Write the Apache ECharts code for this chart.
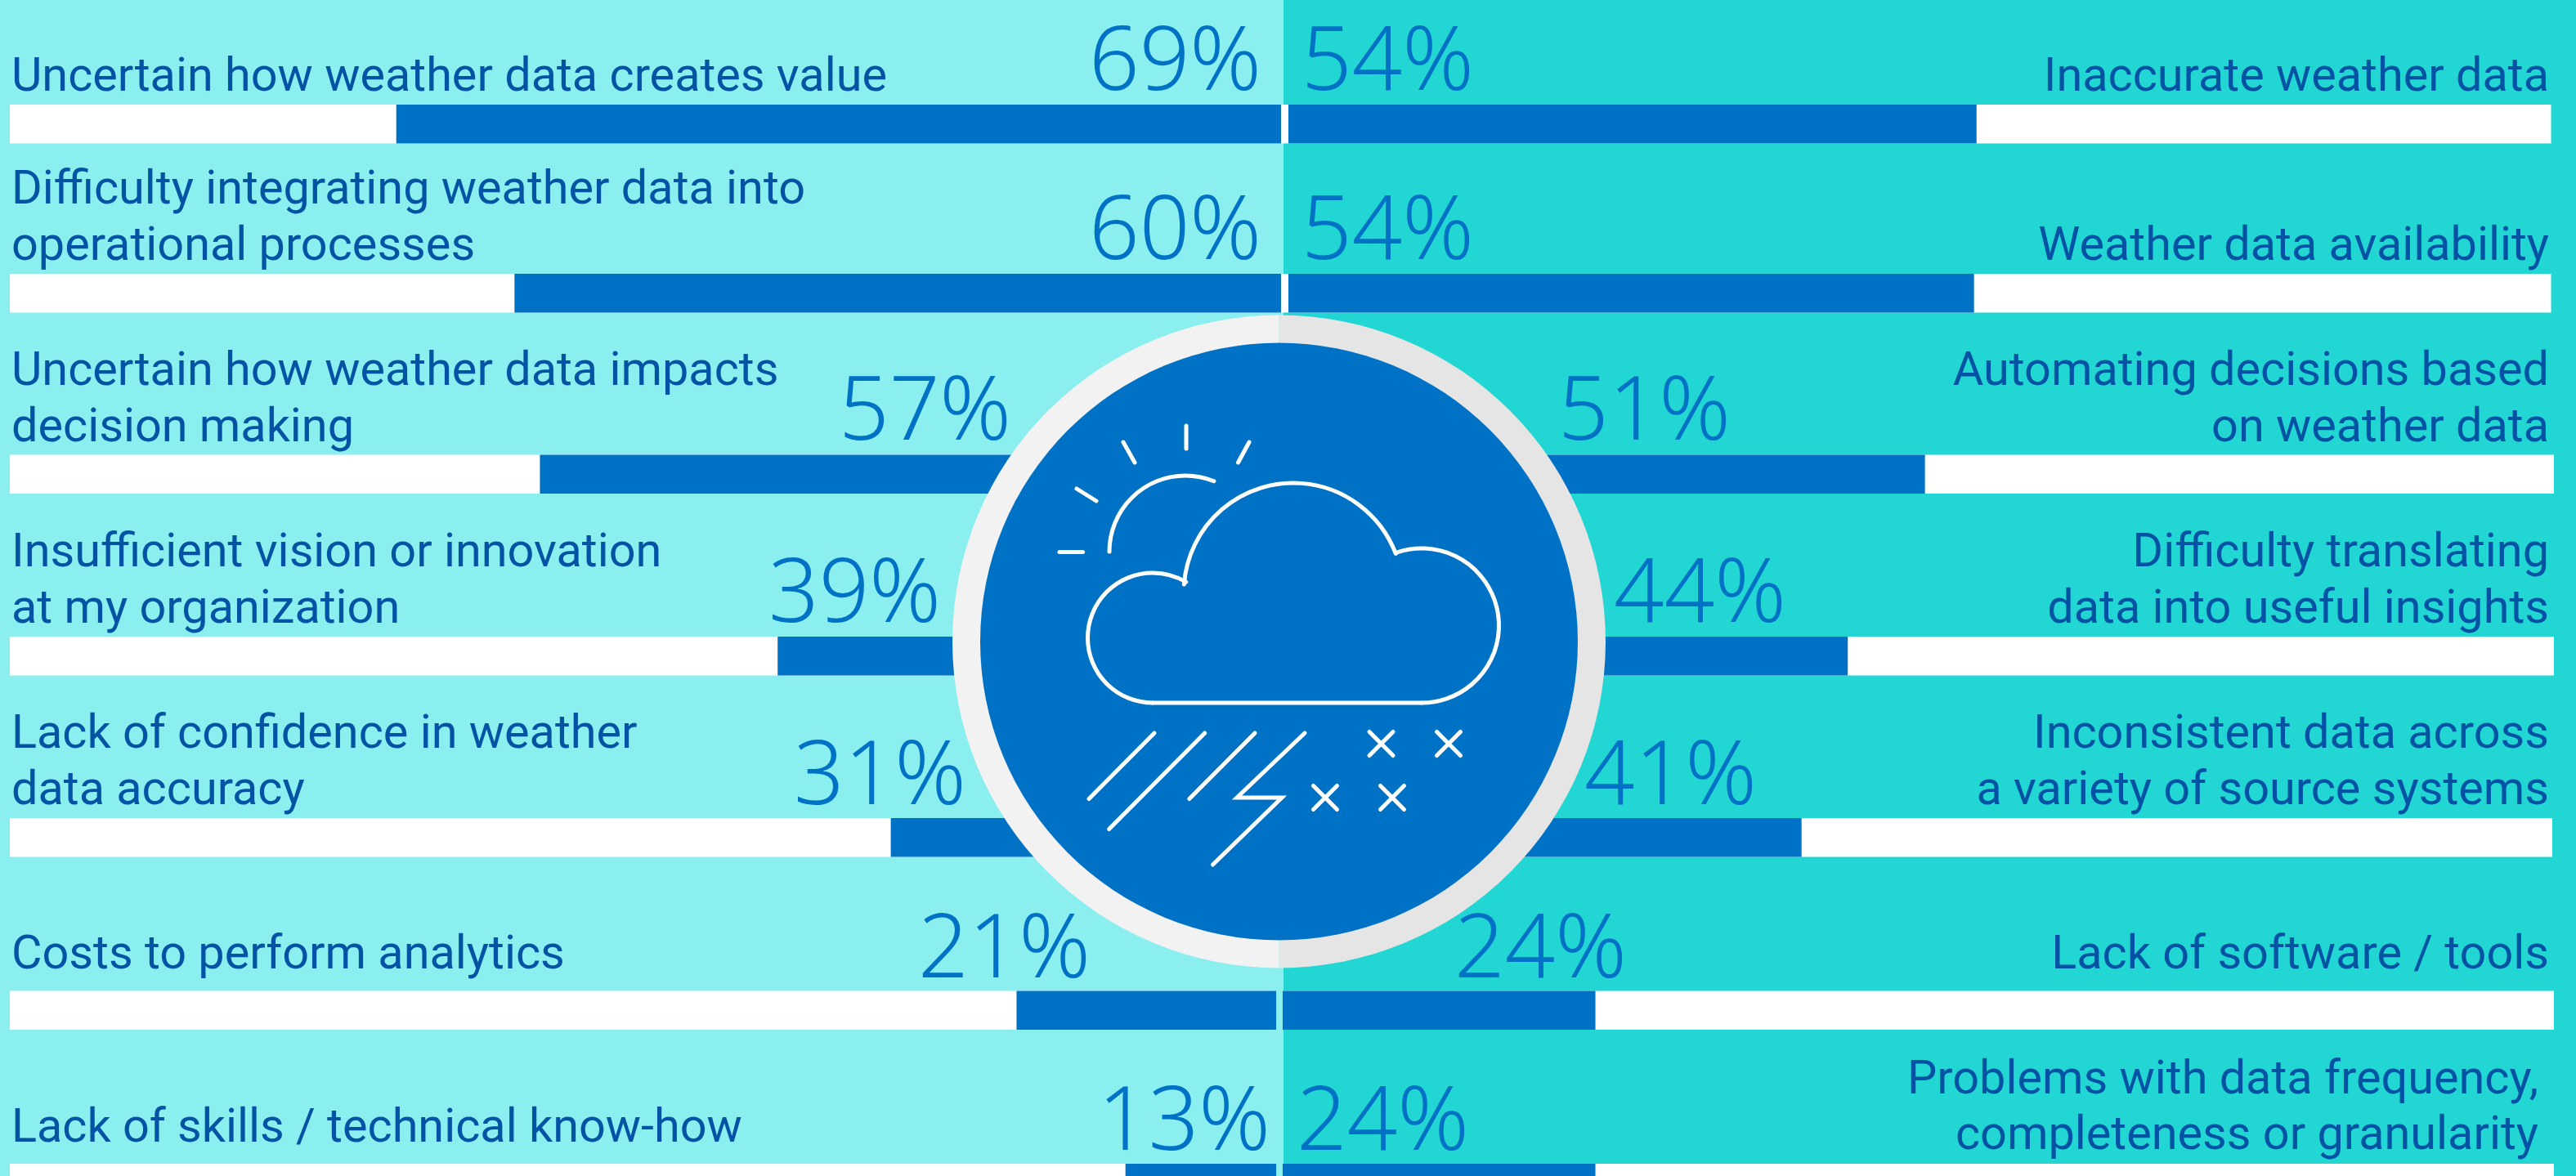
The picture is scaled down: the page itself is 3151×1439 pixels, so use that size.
<!DOCTYPE html>
<html>
<head>
<meta charset="utf-8">
<style>html,body{margin:0;padding:0;background:#8aefee}#c{width:3151px;height:1439px}</style>
<script src="https://cdn.jsdelivr.net/npm/echarts@6/dist/echarts.min.js"></script>
</head>
<body>
<div id="c"></div>
<script>
// ---------- data ----------
const leftLabels = [
  ['Uncertain how weather data creates value'],
  ['Difficulty integrating weather data into','operational processes'],
  ['Uncertain how weather data impacts','decision making'],
  ['Insufficient vision or innovation','at my organization'],
  ['Lack of confidence in weather','data accuracy'],
  ['Costs to perform analytics'],
  ['Lack of skills / technical know-how']
];
const rightLabels = [
  ['Inaccurate weather data'],
  ['Weather data availability'],
  ['Automating decisions based','on weather data'],
  ['Difficulty translating','data into useful insights'],
  ['Inconsistent data across','a variety of source systems'],
  ['Lack of software / tools'],
  ['Problems with data frequency,','completeness or granularity']
];
const leftPercent = [69,60,57,39,31,21,13];
const rightPercent = [54,54,51,44,41,24,24];
// bar lengths (share of the full track)
const leftBars = [69.6,60.3,58.3,39.6,30.7,20.5,11.9];
const rightBars = [54.5,54.3,50.3,44.2,40.6,24.6,24.6];

// ---------- layout ----------
const rowTop = [128,335,556.5,779,1001,1212.5,1424];
const barH = 47.5;
const leftTrackEnd = [1567,1567,1567,1567,1567,1561,1561];
const rightTrackStart = [1576,1576,1576,1576,1576,1569,1569];
const rightTrackEnd = [3120.5,3120.5,3124,3124,3122,3124,3124];
const leftLabelBase = [[110],[248,317],[470,539],[692,761],[914,983],[1184],[1396]];
const rightLabelBase = [[110],[317],[470,539],[692,761],[914,983],[1184],[1337,1405]];
const rightLabelEnd = [3118,3118,3118,3118,3118,3118,3105];
const pctBase = [111,318,539,762,985,1197,1408];
const leftPctEnd = [1543,1543,1237,1151,1182,1334,1554];
const rightPctStart = [1592,1592,1906,1974,1938,1779,1586];

const C = {leftBg:'#8aefee',rightBg:'#22d6d4',blue:'#0072c6',text:'#0353a4',pct:'#0072c6'};
const labelFont = {fontFamily:'Roboto',fontSize:57.6,fontWeight:400,mid:0.24};
const pctFont = {fontFamily:'Noto Sans',fontSize:108,fontWeight:300,mid:0.29};
const deg = d => d*Math.PI/180;

const grid=[],xAxis=[],yAxis=[],series=[];
function addRow(i,side){
  const k=grid.length;
  const isL=side==='L';
  const l=isL?12:rightTrackStart[i];
  const w=isL?leftTrackEnd[i]-12:rightTrackEnd[i]-rightTrackStart[i];
  grid.push({left:l,top:rowTop[i],width:w,height:barH,containLabel:false});
  xAxis.push({gridIndex:k,type:'value',min:0,max:100,inverse:isL,show:false});
  const lab=(isL?leftLabels:rightLabels)[i].join(' ');
  yAxis.push({gridIndex:k,type:'category',data:[lab],show:false});
  series.push({type:'bar',xAxisIndex:k,yAxisIndex:k,barWidth:'100%',silent:true,
    data:[(isL?leftBars:rightBars)[i]],
    itemStyle:{color:C.blue},
    showBackground:true,backgroundStyle:{color:'#ffffff'}});
}
const gfx=[
  {type:'rect',z:0,shape:{x:0,y:0,width:1570,height:1439},style:{fill:C.leftBg}},
  {type:'rect',z:0,shape:{x:1570,y:0,width:1581,height:1439},style:{fill:C.rightBg}},
  // white divider between the two top rows' bars
  {type:'rect',z:1,shape:{x:1567,y:rowTop[0],width:9,height:barH},style:{fill:'#ffffff'}},
  {type:'rect',z:1,shape:{x:1567,y:rowTop[1],width:9,height:barH},style:{fill:'#ffffff'}}
];
function txt(s,x,y,font,color,align){
  gfx.push({type:'text',z:5,silent:true,style:{text:s,x:x,y:y-font.mid*font.fontSize,fill:color,align:align,verticalAlign:'middle',
    fontFamily:font.fontFamily,fontSize:font.fontSize,fontWeight:font.fontWeight}});
}
for(let i=0;i<7;i++){
  addRow(i,'L');addRow(i,'R');
  leftLabels[i].forEach((t,j)=>txt(t,14,leftLabelBase[i][j],labelFont,C.text,'left'));
  rightLabels[i].forEach((t,j)=>txt(t,rightLabelEnd[i],rightLabelBase[i][j],labelFont,C.text,'right'));
  txt(leftPercent[i]+'%',leftPctEnd[i],pctBase[i],pctFont,C.pct,'right');
  txt(rightPercent[i]+'%',rightPctStart[i],pctBase[i],pctFont,C.pct,'left');
}
// central badge
const cx=1564.5,cy=785;
gfx.push({type:'sector',z:10,silent:true,shape:{cx,cy,r:399.5,r0:0,startAngle:deg(90),endAngle:deg(270)},style:{fill:'#f2f2f2'}});
gfx.push({type:'sector',z:10,silent:true,shape:{cx,cy,r:399.5,r0:0,startAngle:deg(270),endAngle:deg(450)},style:{fill:'#e5e5e5'}});
gfx.push({type:'circle',z:11,silent:true,shape:{cx,cy,r:365.5},style:{fill:C.blue}});
const ink={stroke:'#fff',lineWidth:5,lineCap:'round',lineJoin:'miter',fill:'none'};
const arc=(x,y,r,a,b)=>gfx.push({type:'arc',z:12,silent:true,shape:{cx:x,cy:y,r:r,startAngle:deg(a),endAngle:deg(b),clockwise:true},style:ink});
const seg=(x1,y1,x2,y2)=>gfx.push({type:'line',z:12,silent:true,shape:{x1,y1,x2,y2},style:ink});
arc(1410,780.5,79.5,90,300.8);
arc(1582,725,134,184.3,339.2);
arc(1739,765.5,94.5,251,450);
seg(1410,860,1739,860);
arc(1450,675,93,180,292);
[[1451,521,1451,549],[1374,541,1388,566],[1528,541,1514.5,566],[1317,598,1341,613],[1296,675.5,1324.5,675.5],
 [1332,977.5,1412,897],[1356.6,1014.5,1473.7,897],[1454.8,977.5,1535,897]].forEach(s=>seg(...s));
gfx.push({type:'polyline',z:12,silent:true,shape:{points:[[1596,897],[1513,976],[1568,976],[1483.5,1058]]},style:ink});
[[1689.5,910],[1772,910],[1621,976],[1703,976]].forEach(([x,y])=>{
  seg(x-14.5,y-14.5,x+14.5,y+14.5);seg(x-14.5,y+14.5,x+14.5,y-14.5);
});

const chart=echarts.init(document.getElementById('c'),null,{width:3151,height:1439,renderer:'canvas'});
chart.setOption({animation:false,backgroundColor:C.leftBg,tooltip:{show:false},grid,xAxis,yAxis,series,graphic:{elements:gfx}});
</script>
</body>
</html>
